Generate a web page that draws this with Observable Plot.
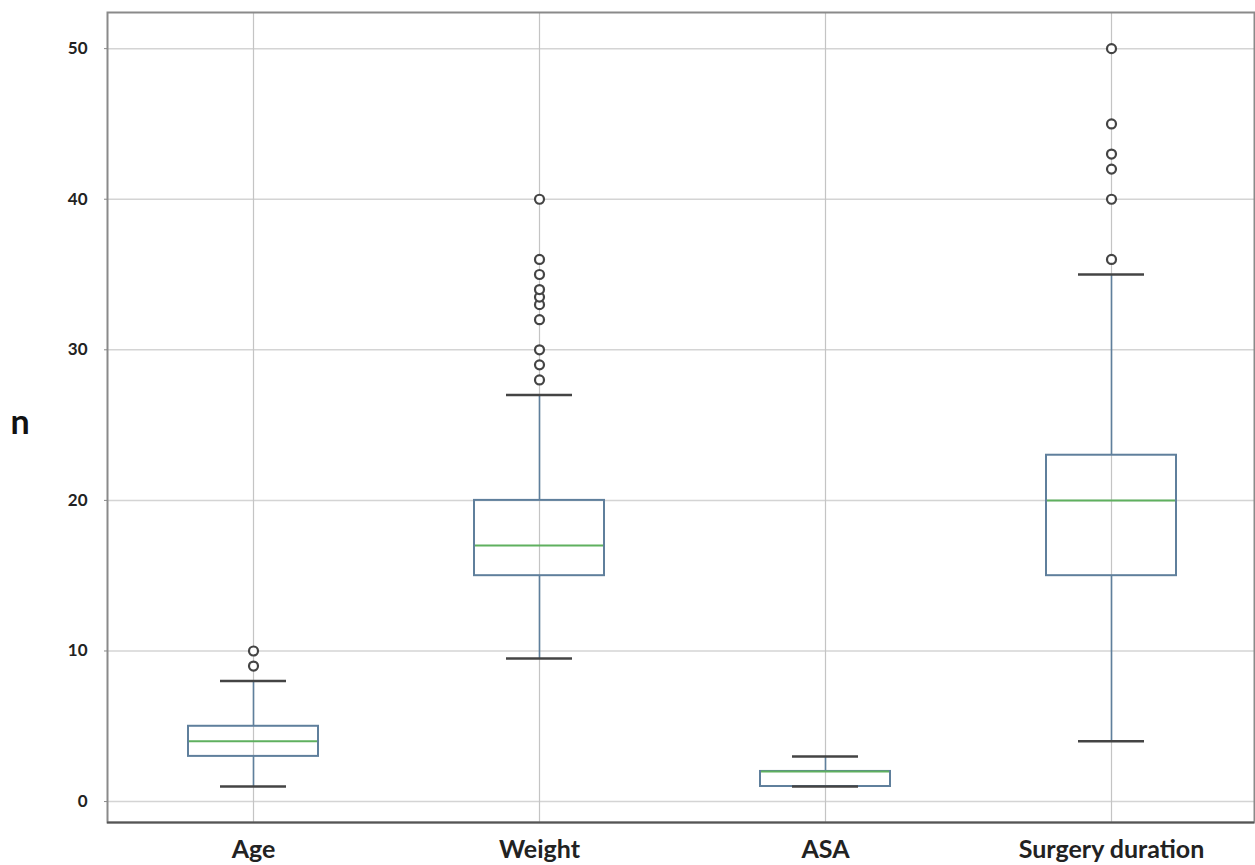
<!DOCTYPE html>
<html>
<head>
<meta charset="utf-8">
<script src="https://cdn.jsdelivr.net/npm/d3@7"></script>
<script src="https://cdn.jsdelivr.net/npm/@observablehq/plot@0.6"></script>
<style>
  html, body { margin: 0; padding: 0; background: #fff; }
  #chart { width: 1255px; height: 865px; }
</style>
</head>
<body>
<div id="chart"></div>
<script>
const categories = ["Age", "Weight", "ASA", "Surgery duration"];
const q1 = [3, 15, 1, 15];
const median = [4, 17, 2, 20];
const q3 = [5, 20, 2, 23];
const whiskerLow = [1, 9.5, 1, 4];
const whiskerHigh = [8, 27, 3, 35];
const outlierCategory = [
  "Age", "Age",
  "Weight", "Weight", "Weight", "Weight", "Weight", "Weight", "Weight", "Weight", "Weight", "Weight",
  "Surgery duration", "Surgery duration", "Surgery duration", "Surgery duration", "Surgery duration", "Surgery duration"
];
const outlierValue = [
  9, 10,
  28, 29, 30, 32, 33, 33.5, 34, 35, 36, 40,
  36, 40, 42, 43, 45, 50
];
const yTicks = [0, 10, 20, 30, 40, 50];

const boxes = categories.map((c, i) => ({
  cat: c, q1: q1[i], med: median[i], q3: q3[i], lo: whiskerLow[i], hi: whiskerHigh[i]
}));
const outliers = outlierValue.map((v, i) => ({cat: outlierCategory[i], v}));

const boxColor = "#5f7f9c";
const medColor = "#5fb05f";
const capColor = "#444";

const chart = Plot.plot({
  width: 1255,
  height: 865,
  marginLeft: 107,
  marginRight: 1,
  marginTop: 12,
  marginBottom: 43,
  style: {fontFamily: "Lato, 'Open Sans', sans-serif", background: "#fff"},
  x: {domain: categories, range: [109, 1254], padding: 0, label: null},
  y: {domain: [-1.39, 52.4], label: null},
  marks: [
    Plot.gridY(yTicks, {stroke: "#d4d4d4", strokeOpacity: 1, strokeWidth: 1.5}),
    Plot.ruleX(categories, {x: d => d, stroke: "#c4c4c4", strokeWidth: 1.2}),
    Plot.frame({stroke: "#8a8a8a", strokeWidth: 2}),
    Plot.ruleY([-1.39], {stroke: "#555", strokeWidth: 2}),
    Plot.axisY(yTicks, {tickSize: 3, tickPadding: 17, fontSize: 17, fontWeight: "bold", fill: "#222", stroke: "#888"}),
    Plot.axisX({tickSize: 0, tickPadding: 18, fontSize: 25, fontWeight: "bold", fill: "#222"}),
    Plot.ruleX(boxes, {x: "cat", y1: "lo", y2: "q1", stroke: boxColor, strokeWidth: 1.6}),
    Plot.ruleX(boxes, {x: "cat", y1: "q3", y2: "hi", stroke: boxColor, strokeWidth: 1.6}),
    Plot.rect(boxes, {x: "cat", y1: "q1", y2: "q3", fill: "none", stroke: boxColor, strokeWidth: 2, insetLeft: 78, insetRight: 78}),
    Plot.tickY(boxes, {x: "cat", y: "med", stroke: medColor, strokeWidth: 2, insetLeft: 79, insetRight: 79}),
    Plot.tickY(boxes, {x: "cat", y: "lo", stroke: capColor, strokeWidth: 2.5, insetLeft: 110, insetRight: 110}),
    Plot.tickY(boxes, {x: "cat", y: "hi", stroke: capColor, strokeWidth: 2.5, insetLeft: 110, insetRight: 110}),
    Plot.dot(outliers, {x: "cat", y: "v", r: 4.5, stroke: "#444", strokeWidth: 2.2, fill: "#fff"}),
    Plot.text(["n"], {frameAnchor: "left", dx: -97, dy: 6, fontSize: 34, fontWeight: "bold", fill: "#111", textAnchor: "start"})
  ]
});
document.getElementById("chart").appendChild(chart);
</script>
</body>
</html>
